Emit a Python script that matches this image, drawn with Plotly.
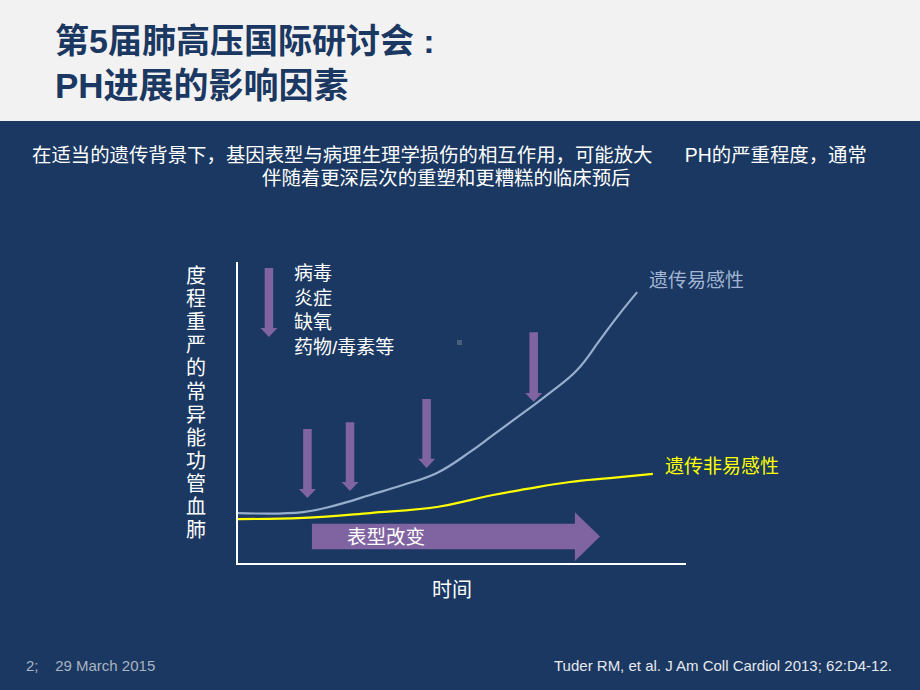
import plotly.graph_objects as go

# ---------------- data ----------------
time_axis_title = "时间"
severity_title = "肺血管功能异常的严重程度"  # drawn bottom-to-top (stacked)

# susceptible curve (遗传易感性)
sus_x = [0, 14.5, 22.1, 29.5, 36.8, 44.4, 51.8, 56.9, 64.5, 69.6, 75.7, 80.8, 84.6, 89.1]
sus_y = [16.6, 16.9, 19.3, 22.6, 25.9, 29.9, 36.9, 42.5, 50.8, 56.5, 64.1, 74.1, 81.7, 90.0]

# non-susceptible curve (遗传非易感性)
non_x = [0, 14.5, 29.5, 44.4, 51.8, 56.9, 64.5, 74.1, 83.0, 92.6]
non_y = [14.6, 15.0, 16.6, 18.6, 20.9, 22.6, 24.6, 26.9, 28.2, 29.6]

# insult arrows: x position, top, tip
arrow_x = [6.9, 15.5, 25.0, 42.1, 66.0]
arrow_top = [98.0, 44.5, 46.8, 54.5, 76.7]
arrow_tip = [75.1, 21.6, 23.9, 31.6, 53.5]

# phenotype-change arrow (表型改变)
phen_x = [16.5, 75.2, 80.8]   # start, head base, tip
phen_y = [4.6, 13.0, 0.7, 16.9]  # body bottom, body top, head bottom, head top

insults = ["病毒", "炎症", "缺氧", "药物/毒素等"]

title_lines = ["第5届肺高压国际研讨会 :", "PH进展的影响因素"]
subtitle_lines = [
    "在适当的遗传背景下，基因表型与病理生理学损伤的相互作用，可能放大\u00a0\u00a0\u00a0\u00a0\u00a0\u00a0PH的严重程度，通常",
    "伴随着更深层次的重塑和更糟糕的临床预后",
]
footer_left = "2;\u00a0\u00a0\u00a0\u00a029 March 2015"
footer_right = "Tuder RM, et al. J Am Coll Cardiol 2013; 62:D4-12."

# ---------------- style ----------------
W, H = 920, 690
NAVY = "#1a3861"
GRAY = "#f2f2f2"
PURPLE = "#8064a2"
BLUE = "#97afcd"
YELLOW = "#ffff00"
FONT = "Liberation Sans, Noto Sans CJK SC, sans-serif"

def px(x):
    return x / W

def py(y):
    return 1 - y / H

fig = go.Figure()

fig.add_trace(go.Scatter(x=sus_x, y=sus_y, mode="lines",
                         line=dict(color=BLUE, width=2.2, shape="spline", smoothing=1.2),
                         hoverinfo="skip", showlegend=False))
fig.add_trace(go.Scatter(x=non_x, y=non_y, mode="lines",
                         line=dict(color=YELLOW, width=2.2, shape="spline", smoothing=1.2),
                         hoverinfo="skip", showlegend=False))

shapes = []
# header band
shapes.append(dict(type="rect", xref="paper", yref="paper", x0=0, x1=1, y0=py(121), y1=1,
                   fillcolor=GRAY, line=dict(width=0), layer="below"))

# insult arrows
sw, hw, hl = 0.95, 1.9, 3.0
for xc, yt, yb in zip(arrow_x, arrow_top, arrow_tip):
    hb = yb + hl
    path = (f"M {xc-sw},{yt} L {xc+sw},{yt} L {xc+sw},{hb} L {xc+hw},{hb} "
            f"L {xc},{yb} L {xc-hw},{hb} L {xc-sw},{hb} Z")
    shapes.append(dict(type="path", xref="x", yref="y", path=path,
                       fillcolor=PURPLE, line=dict(width=0)))

# phenotype arrow
x0, xb, xt = phen_x
yb0, yt0, hb0, ht0 = phen_y
ymid = (hb0 + ht0) / 2
path = (f"M {x0},{yb0} L {xb},{yb0} L {xb},{hb0} L {xt},{ymid} L {xb},{ht0} "
        f"L {xb},{yt0} L {x0},{yt0} Z")
shapes.append(dict(type="path", xref="x", yref="y", path=path,
                   fillcolor=PURPLE, line=dict(width=0)))

# tiny grey mark
shapes.append(dict(type="rect", xref="paper", yref="paper", x0=px(457), x1=px(462),
                   y0=py(345), y1=py(340), fillcolor="#4a5d7a", line=dict(width=0)))

ann = []
ann.append(dict(text="<b>" + title_lines[0] + "</b>", x=px(53), y=py(41), xanchor="left", yanchor="middle",
                font=dict(family=FONT, size=34, color=NAVY)))
ann.append(dict(text="<b>" + title_lines[1] + "</b>", x=px(53), y=py(85), xanchor="left", yanchor="middle",
                font=dict(family=FONT, size=35, color=NAVY)))
ann.append(dict(text=subtitle_lines[0], x=px(449), y=py(155), xanchor="center", yanchor="middle",
                font=dict(family=FONT, size=19.4, color="white")))
ann.append(dict(text=subtitle_lines[1], x=px(446), y=py(178), xanchor="center", yanchor="middle",
                font=dict(family=FONT, size=19.4, color="white")))

# stacked y label (read bottom to top), one glyph per row
chars = list(severity_title)[::-1]
for i, ch in enumerate(chars):
    ann.append(dict(text=ch, x=px(196), y=py(276 + i * 23.1), xanchor="center", yanchor="middle",
                    font=dict(family=FONT, size=20, color="white")))
ann.append(dict(text=time_axis_title, x=px(452), y=py(590), xanchor="center", yanchor="middle",
                font=dict(family=FONT, size=20, color="white")))

ann.append(dict(text="<br>".join(insults), x=px(292), y=py(310), xanchor="left", yanchor="middle",
                align="left", font=dict(family=FONT, size=19, color="white")))

ann.append(dict(text="遗传易感性", x=px(647), y=py(280), xanchor="left", yanchor="middle",
                font=dict(family=FONT, size=19, color="#a2b6d3")))
ann.append(dict(text="遗传非易感性", x=px(663), y=py(466), xanchor="left", yanchor="middle",
                font=dict(family=FONT, size=19, color=YELLOW)))
ann.append(dict(text="表型改变", x=33.0, y=8.8, xref="x", yref="y", xanchor="center", yanchor="middle",
                font=dict(family=FONT, size=19.5, color="white")))

ann.append(dict(text=footer_left, x=px(24), y=py(665), xanchor="left", yanchor="middle",
                font=dict(family=FONT, size=15, color="#aab4c3")))
ann.append(dict(text=footer_right, x=px(894), y=py(665), xanchor="right", yanchor="middle",
                font=dict(family=FONT, size=15, color="#e6e9ee")))

for a in ann:
    a.setdefault("xref", "paper")
    a.setdefault("yref", "paper")
    a["showarrow"] = False

fig.update_layout(
    width=W, height=H, autosize=False,
    margin=dict(l=0, r=0, t=0, b=0, pad=0),
    paper_bgcolor=NAVY, plot_bgcolor=NAVY,
    shapes=shapes, annotations=ann,
    xaxis=dict(domain=[238 / W, 686 / W], range=[0, 100], showline=True, linecolor="white",
               linewidth=2, showgrid=False, zeroline=False, showticklabels=False, ticks=""),
    yaxis=dict(domain=[py(563), py(262)], range=[0, 100], showline=True, linecolor="white",
               linewidth=2, showgrid=False, zeroline=False, showticklabels=False, ticks=""),
    showlegend=False,
)

fig.write_html("out.html")
